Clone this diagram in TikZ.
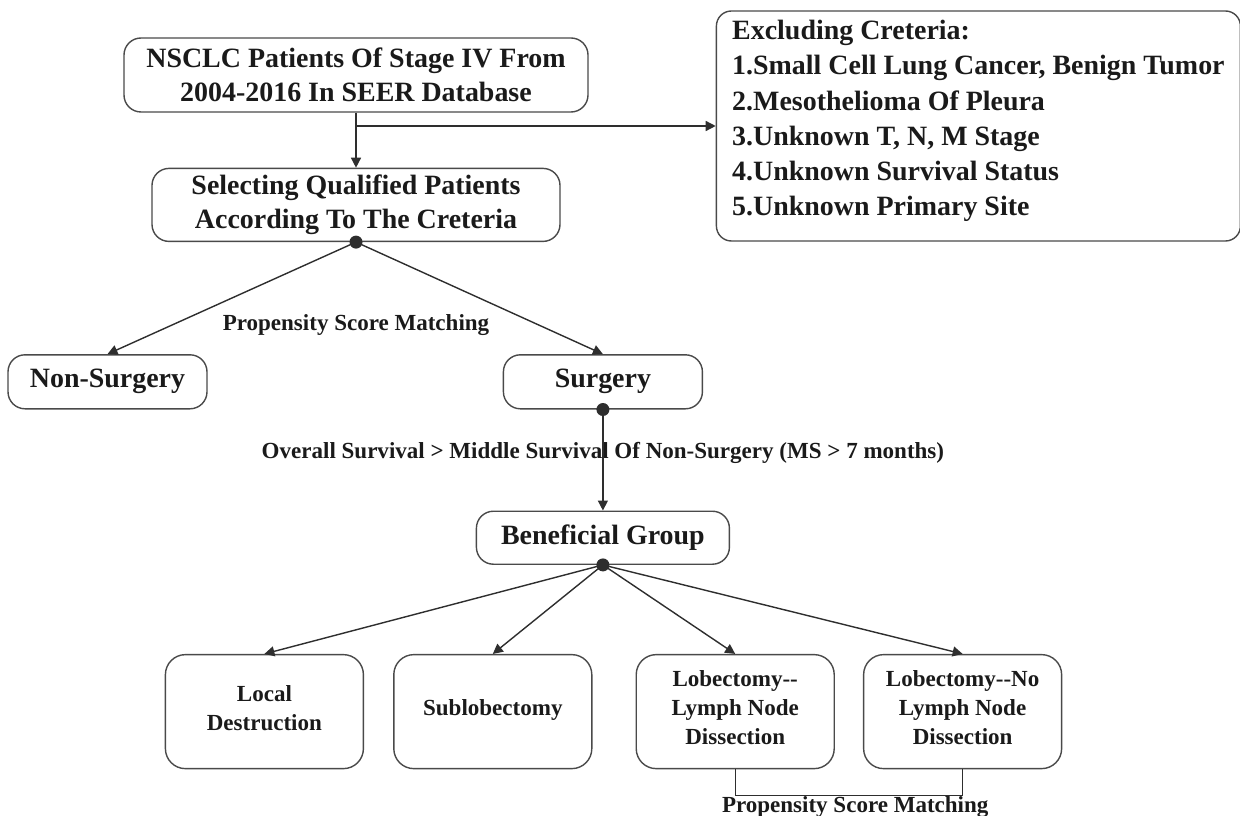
\documentclass[tikz,border=0pt]{standalone}
\usepackage{fontspec}
\setmainfont{Liberation Serif}
\usepackage{tikz}
\usetikzlibrary{arrows.meta,positioning,calc}
\definecolor{LineGray}{HTML}{2E2E2E}
\definecolor{BoxGray}{HTML}{4A4A4A}
\definecolor{InkBlack}{HTML}{1A1A1A}

\begin{document}
\begin{tikzpicture}[
			box/.style={draw=BoxGray,line width=0.8pt,rounded corners=0.34cm,align=center,text=InkBlack,font=\bfseries\fontsize{15.9}{19}\selectfont},
			pill/.style={box,minimum width=3.98cm,minimum height=1.08cm},
			leaf/.style={box,rounded corners=0.4cm,minimum width=3.96cm,minimum height=2.28cm,text depth=0.16cm,font=\bfseries\fontsize{13.1}{16.5}\selectfont},
			exbox/.style={box,rounded corners=0.3cm,align=left,minimum width=10.48cm,minimum height=4.6cm,text depth=0.32cm,font=\bfseries\fontsize{15.9}{20}\selectfont},
			lbl/.style={text=InkBlack,font=\bfseries\fontsize{13.1}{16}\selectfont},
			arr/.style={-{Triangle[length=0.2cm,width=0.2cm]},line width=0.8pt,color=LineGray},
			link/.style={line width=0.8pt,color=LineGray}
		]
		\useasboundingbox (0,0) rectangle (24.8,-16.32);
		\node[box,minimum width=9.28cm,minimum height=1.48cm] (nsclc) at (7.12,-1.5) {NSCLC Patients Of Stage IV From\\2004-2016 In SEER Database};
		\node[box,minimum width=8.16cm,minimum height=1.46cm,below=1.1cm of nsclc] (select) {Selecting Qualified Patients\\According To The Creteria};
		\node[exbox,right=2.54cm of nsclc,yshift=-1.02cm] (excl) {Excluding Creteria:\\1.Small Cell Lung Cancer, Benign Tumor\\2.Mesothelioma Of Pleura\\3.Unknown T, N, M Stage\\4.Unknown Survival Status\\5.Unknown Primary Site};
		\node[pill,below=2.24cm of select,xshift=-4.97cm] (nonsurg) {Non-Surgery};
		\node[pill,right=5.9cm of nonsurg] (surg) {Surgery};
		\node[pill,minimum width=5.06cm,minimum height=1.06cm,below=2.02cm of surg] (benef) {Beneficial Group};
		\node[leaf,below=1.78cm of benef,xshift=-6.77cm] (local) {Local\\Destruction};
		\node[leaf,right=0.58cm of local] (sublob) {Sublobectomy};
		\node[leaf,right=0.86cm of sublob] (lobln) {Lobectomy-{}-\\Lymph Node\\Dissection};
		\node[leaf,right=0.56cm of lobln] (lobno) {Lobectomy-{}-No\\Lymph Node\\Dissection};
		\node[lbl] (psmone) at ($(select.south)+(0,-1.66)$) {Propensity Score Matching};
		\node[lbl] (survnote) at ($(surg.south)+(0,-0.86)$) {Overall Survival > Middle Survival Of Non-Surgery (MS > 7 months)};
		\coordinate (split) at (nsclc.south |- excl.west);
		\coordinate (pairl) at ($(lobln.south)+(0,-0.52)$);
		\node[lbl] (psmtwo) at ($(pairl)+(2.4,-0.24)$) {Propensity Score Matching};
		\draw[arr] (nsclc)--(select);
		\draw[arr] (split)--(excl.west);
		\draw[arr] (select.south)--(nonsurg.north);
		\draw[arr] (select.south)--(surg.north);
		\draw[arr] (surg.south)--(benef.north);
		\draw[arr] (benef.south)--(local.north);
		\draw[arr] (benef.south)--(sublob.north);
		\draw[arr] (benef.south)--(lobln.north);
		\draw[arr] (benef.south)--(lobno.north);
		\draw[link] (lobln.south)--(pairl)-|(lobno.south);
		\fill[LineGray] (select.south) circle (0.13cm);
		\fill[LineGray] (surg.south) circle (0.13cm);
		\fill[LineGray] (benef.south) circle (0.13cm);
	\end{tikzpicture}
\end{document}
